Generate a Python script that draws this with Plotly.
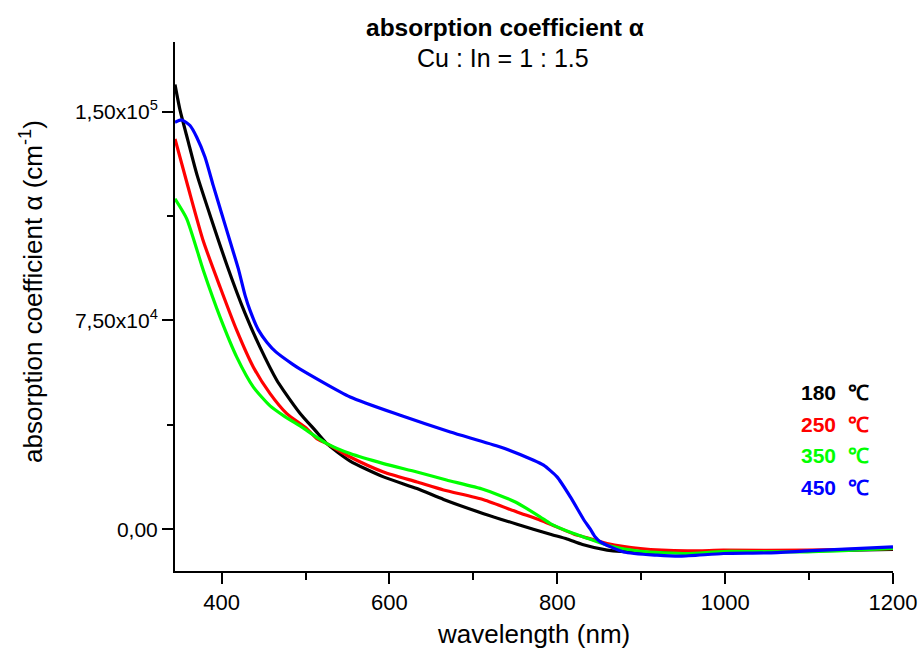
import plotly.graph_objects as go

# ---- data ----
wl_180 = [344.5, 350.5, 360, 371, 406.2, 428, 445.9, 465.8, 473.7, 493.6, 511.5, 525.4, 553.2,
          592.9, 632.8, 664.5, 712.2, 752, 791.7, 811.6, 830, 859.4, 900, 1000, 1100, 1200]
alpha_180 = [159700, 150500, 139500, 127000, 95000, 77500, 65300, 53500, 49900, 41600, 35500, 30750, 24500,
             18800, 14600, 10700, 5600, 1800, -1800, -3500, -5500, -7500, -8300, -8200, -7800, -7200]

wl_250 = [344.5, 360, 378, 398.2, 418.1, 437.9, 457.8, 477.7, 501.6, 513.5, 525.4, 553.2,
          592.9, 632.8, 664.5, 712.2, 752, 779.8, 791.7, 819.5, 831.4, 859.4, 899, 954.7, 998, 1098, 1200]
alpha_250 = [140200, 123000, 103700, 87000, 71400, 58200, 48700, 41500, 36100, 32500, 30750, 25950,
             20560, 16970, 14100, 10600, 6200, 3230, 1800, -1700, -2760, -5130, -6925, -7790, -7536, -7536, -7000]

wl_350 = [344.5, 358.5, 378.3, 398.2, 418.1, 437.9, 457.8, 473.7, 497.5, 513.5, 525.4, 553.2, 592.9,
          632.8, 668, 712.2, 750, 779.8, 791.7, 819.5, 831.4, 859.4, 899, 954.7, 998, 1098, 1200]
alpha_350 = [118670, 111500, 92940, 76190, 61830, 51060, 44300, 40800, 36300, 33000, 30750, 27160, 23580,
             20560, 17700, 14300, 9800, 4400, 2045, -1540, -2760, -5740, -7900, -8720, -8000, -8146, -6925]

wl_450 = [344.5, 352.5, 362.4, 370.4, 380.3, 390, 400, 410, 420, 428, 434, 443.8, 453.9, 465, 484, 493.6,
          553.2, 612.9, 672.5, 732.1, 771.8, 783.7, 799.7, 815.6, 831.4, 839.4, 845, 851.4, 879.2,
          918.9, 946.8, 998, 1050, 1098, 1200]
alpha_450 = [146200, 147000, 145000, 140800, 133600, 123500, 113500, 103500, 93500, 84000, 78500, 71600, 67200, 63600,
             59400, 57500, 47480, 40910, 34920, 29530, 24760, 23000, 18800, 11600, 3500, 0, -2700, -4550, -8150,
             -9330, -9690, -8720, -8500, -7800, -6350]

series_names = ["180\u00a0\u00a0℃", "250\u00a0\u00a0℃", "350\u00a0\u00a0℃", "450\u00a0\u00a0℃"]
series_colors = ["#000000", "#ff0000", "#00ff00", "#0000ff"]
series_x = [wl_180, wl_250, wl_350, wl_450]
series_y = [alpha_180, alpha_250, alpha_350, alpha_450]

y_tickvals = [0, 75000, 150000]
y_ticktext = ["0,00", "7,50x10<sup>4</sup>", "1,50x10<sup>5</sup>"]
y_minor = [37500, 112500]

FONT = "Liberation Sans, Arial, sans-serif"

fig = go.Figure()
for name, col, xs, ys in zip(series_names, series_colors, series_x, series_y):
    fig.add_trace(go.Scatter(x=xs, y=ys, mode="lines", name=name,
                             line=dict(color=col, width=3.2, shape="spline", smoothing=0.6),
                             showlegend=False))

fig.update_layout(
    width=919, height=654, autosize=False,
    margin=dict(l=175, r=26, t=42, b=83, autoexpand=False),
    paper_bgcolor="white", plot_bgcolor="white",
    font=dict(family=FONT, color="black", size=22),
)
fig.update_xaxes(
    range=[344.5, 1200], tickmode="linear", tick0=400, dtick=200, automargin=False,
    showline=True, linecolor="black", linewidth=2, mirror=False,
    ticks="outside", ticklen=11, tickwidth=2, tickcolor="black",
    minor=dict(tickmode="linear", tick0=400, dtick=100, ticks="outside", ticklen=7, tickwidth=2, tickcolor="black"),
    showgrid=False, zeroline=False, tickfont=dict(size=22),
)
fig.update_yaxes(
    range=[-15000, 175000], tickmode="array", tickvals=y_tickvals, ticktext=y_ticktext, automargin=False,
    showline=True, linecolor="black", linewidth=2, mirror=False,
    ticks="outside", ticklen=11, tickwidth=2, tickcolor="black",
    minor=dict(tickmode="array", tickvals=y_minor, ticks="outside", ticklen=6, tickwidth=2, tickcolor="black"),
    showgrid=False, zeroline=False, tickfont=dict(size=21),
)

# titles
fig.add_annotation(text="<b>absorption coefficient α</b>", xref="paper", yref="paper",
                   x=(505 - 175) / 718, y=1 + (42 - 28) / 529, xanchor="center", yanchor="middle",
                   showarrow=False, font=dict(size=24.5))
fig.add_annotation(text="Cu : In = 1 : 1.5", xref="paper", yref="paper",
                   x=(503 - 175) / 718, y=1 + (42 - 58) / 529, xanchor="center", yanchor="middle",
                   showarrow=False, font=dict(size=25))
fig.add_annotation(text="wavelength (nm)", xref="paper", yref="paper",
                   x=(533 - 175) / 718, y=-(634 - 571) / 529, xanchor="center", yanchor="middle",
                   showarrow=False, font=dict(size=26))
fig.add_annotation(text="absorption coefficient α (cm<sup>-1</sup>)", xref="paper", yref="paper",
                   x=(31 - 175) / 718, y=(571 - 292) / 529, xanchor="center", yanchor="middle",
                   textangle=-90, showarrow=False, font=dict(size=26))

# legend as coloured text
legend_y = [392, 424, 455, 487]
for name, col, py in zip(series_names, series_colors, legend_y):
    fig.add_annotation(text="<b>" + name + "</b>", xref="paper", yref="paper",
                       x=(799 - 175) / 718, y=(571 - py) / 529, xanchor="left", yanchor="middle",
                       showarrow=False, font=dict(size=21, color=col))

fig.write_html("out.html", config={"displayModeBar": False},
               post_script="document.body.style.margin='0';")
